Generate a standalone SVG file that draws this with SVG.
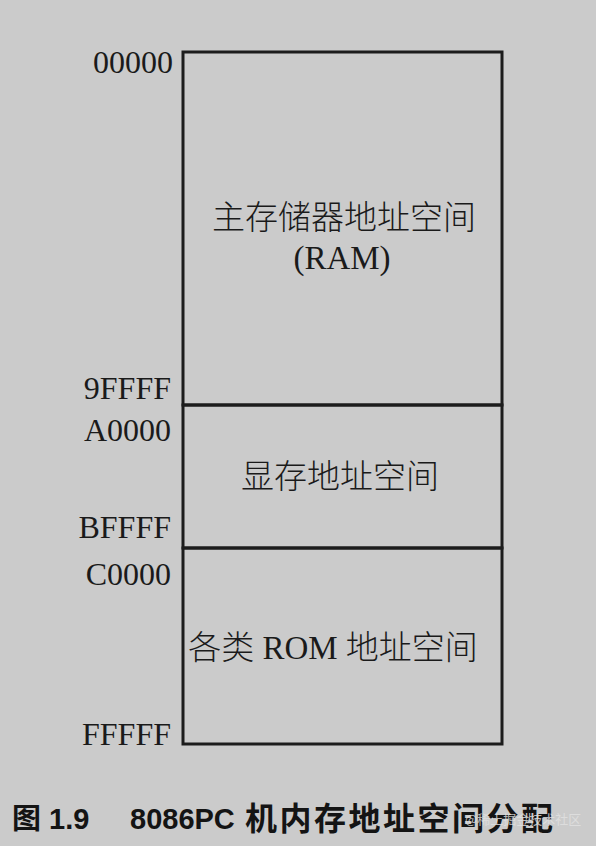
<svg xmlns="http://www.w3.org/2000/svg" width="596" height="846" viewBox="0 0 596 846">
<style>
.addr{font-family:"Liberation Serif","Times New Roman",serif;font-size:32px;fill:#1a1a1a;text-anchor:end}
.lbl{font-family:"Liberation Serif","Noto Sans CJK SC",serif;font-size:33px;fill:#1a1a1a;text-anchor:middle}
.cjk{font-family:"Noto Sans CJK SC",sans-serif;font-weight:300}
.box{fill:none;stroke:#1c1c1c;stroke-width:3}
.cap{font-family:"Liberation Sans","Noto Sans CJK SC",sans-serif;font-size:29px;font-weight:bold;fill:#141414}
.capcjk{font-size:32px;letter-spacing:2.5px}
.wm{font-family:"Noto Sans CJK SC",sans-serif;font-size:13px;fill:#e2e2e2;opacity:0.8}
</style>
<rect width="596" height="846" fill="#cbcbcb"/>
<g id="ram">
<rect class="box" x="183" y="52" width="319" height="353"/>
<text class="lbl" x="344" y="229"><tspan class="cjk">主存储器地址空间</tspan></text>
<text class="lbl" x="342" y="269">(RAM)</text>
</g>
<g id="vram">
<rect class="box" x="183" y="405" width="319" height="143"/>
<text class="lbl" x="340" y="488"><tspan class="cjk">显存地址空间</tspan></text>
</g>
<g id="rom">
<rect class="box" x="183" y="548" width="319" height="196"/>
<text class="lbl" x="333" y="659"><tspan class="cjk">各类</tspan> ROM <tspan class="cjk">地址空间</tspan></text>
</g>
<g id="addresses">
<text class="addr" x="173" y="73">00000</text>
<text class="addr" x="171" y="399">9FFFF</text>
<text class="addr" x="171" y="441">A0000</text>
<text class="addr" x="171" y="538">BFFFF</text>
<text class="addr" x="171" y="585">C0000</text>
<text class="addr" x="171" y="745">FFFFF</text>
</g>
<g id="caption">
<text class="cap" x="12" y="829">图 1.9</text>
<text class="cap" x="130" y="829">8086PC</text>
<text class="cap capcjk" x="245" y="830">机内存地址空间分配</text>
<text class="wm" x="465" y="824">@稀土掘金技术社区</text>
</g>
</svg>
